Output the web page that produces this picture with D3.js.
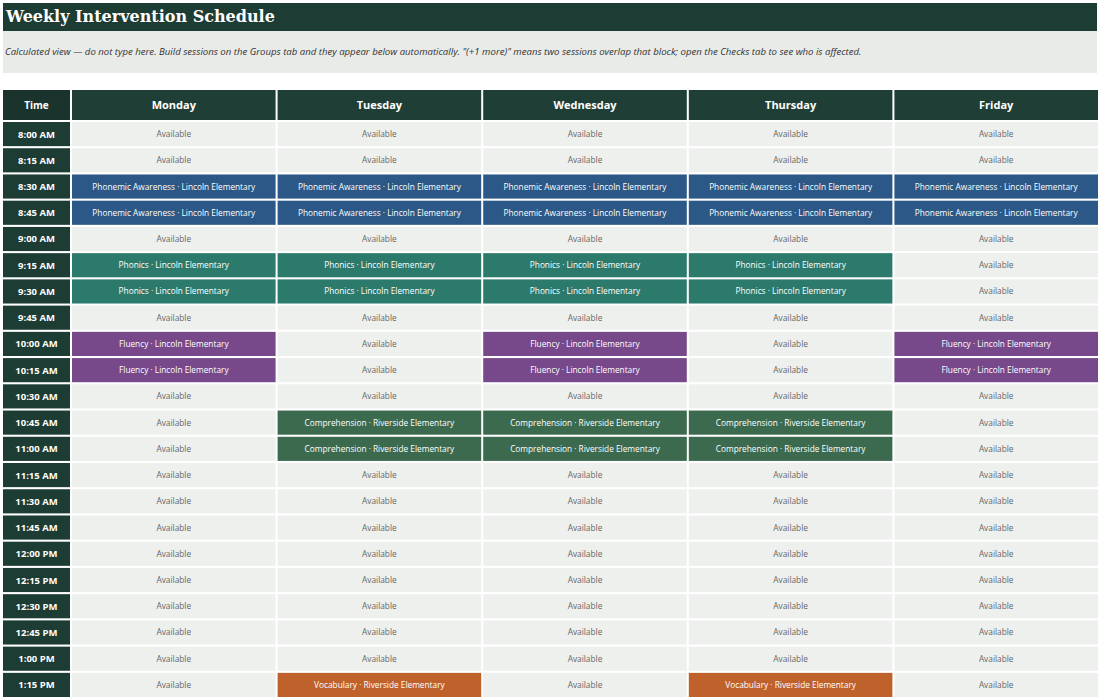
<!DOCTYPE html>
<html><head><meta charset="utf-8">
<script src="https://cdn.jsdelivr.net/npm/d3@7"></script>
<style>body{margin:0;background:#fff}</style></head>
<body><svg id="c" width="1100" height="700"></svg>
<script>
const days=["Monday","Tuesday","Wednesday","Thursday","Friday"];
const times=["8:00 AM","8:15 AM","8:30 AM","8:45 AM","9:00 AM","9:15 AM","9:30 AM","9:45 AM","10:00 AM","10:15 AM","10:30 AM","10:45 AM","11:00 AM","11:15 AM","11:30 AM","11:45 AM","12:00 PM","12:15 PM","12:30 PM","12:45 PM","1:00 PM","1:15 PM"];
const sessions=[
 {name:"Phonemic Awareness",school:"Lincoln Elementary",times:["8:30 AM","8:45 AM"],days:["Monday","Tuesday","Wednesday","Thursday","Friday"],color:"#2b5886"},
 {name:"Phonics",school:"Lincoln Elementary",times:["9:15 AM","9:30 AM"],days:["Monday","Tuesday","Wednesday","Thursday"],color:"#2c7a6c"},
 {name:"Fluency",school:"Lincoln Elementary",times:["10:00 AM","10:15 AM"],days:["Monday","Wednesday","Friday"],color:"#77498a"},
 {name:"Comprehension",school:"Riverside Elementary",times:["10:45 AM","11:00 AM"],days:["Tuesday","Wednesday","Thursday"],color:"#3b6a4e"},
 {name:"Vocabulary",school:"Riverside Elementary",times:["1:15 PM"],days:["Tuesday","Thursday"],color:"#bf612b"}
];
const svg=d3.select("#c");
const F="'Open Sans',sans-serif";
svg.append("rect").attr("x",3).attr("y",3).attr("width",1094).attr("height",28).attr("fill","#1d3c33");
svg.append("text").attr("x",6).attr("y",22).attr("fill","#fff").attr("font-family","'DejaVu Serif',serif").attr("font-weight","bold").attr("font-size",16).text("Weekly Intervention Schedule");
svg.append("rect").attr("x",3).attr("y",31).attr("width",1094).attr("height",42).attr("fill","#e9ebe9");
svg.append("text").attr("x",5).attr("y",55).attr("fill","#333").attr("font-family",F).attr("font-style","italic").attr("font-size",9.6)
 .text("Calculated view — do not type here. Build sessions on the Groups tab and they appear below automatically. \"(+1 more)\" means two sessions overlap that block; open the Checks tab to see who is affected.");
const x=d3.scaleBand().domain(days).range([72,1098]).paddingInner(0.0098);
const y=d3.scaleBand().domain(times).range([122,697]).paddingInner(0.08);
// header
svg.append("rect").attr("x",3).attr("y",90).attr("width",67).attr("height",30).attr("fill","#1a332c");
svg.append("text").attr("x",36.5).attr("y",109).attr("text-anchor","middle").attr("fill","#fff").attr("font-family",F).attr("font-weight","bold").attr("font-size",10).text("Time");
const hd=svg.selectAll(".hd").data(days).enter().append("g");
hd.append("rect").attr("x",d=>x(d)).attr("y",90).attr("width",x.bandwidth()).attr("height",30).attr("fill","#1f3f36");
hd.append("text").attr("x",d=>x(d)+x.bandwidth()/2).attr("y",109).attr("text-anchor","middle").attr("fill","#fff").attr("font-family",F).attr("font-weight","bold").attr("font-size",11).text(d=>d);
// time col
const tc=svg.selectAll(".tc").data(times).enter().append("g");
tc.append("rect").attr("x",3).attr("y",d=>y(d)).attr("width",67).attr("height",y.bandwidth()).attr("fill","#1d3c33");
tc.append("text").attr("x",36.5).attr("y",d=>y(d)+y.bandwidth()/2+3.5).attr("text-anchor","middle").attr("fill","#fff").attr("font-family",F).attr("font-weight","bold").attr("font-size",9.5).text(d=>d);
// cells
const cells=[];
times.forEach(t=>days.forEach(d=>{
 const s=sessions.find(s=>s.times.includes(t)&&s.days.includes(d));
 cells.push({t,d,s});
}));
const cg=svg.selectAll(".cell").data(cells).enter().append("g");
cg.append("rect").attr("x",c=>x(c.d)).attr("y",c=>y(c.t)).attr("width",x.bandwidth()).attr("height",y.bandwidth()).attr("fill",c=>c.s?c.s.color:"#eef0ee");
cg.append("text").attr("x",c=>x(c.d)+x.bandwidth()/2).attr("y",c=>y(c.t)+y.bandwidth()/2+3).attr("text-anchor","middle")
 .attr("fill",c=>c.s?"#fff":"#666").attr("font-family",F).attr("font-size",8.3)
 .text(c=>c.s?c.s.name+"  ·  "+c.s.school:"Available");
</script></body></html>
